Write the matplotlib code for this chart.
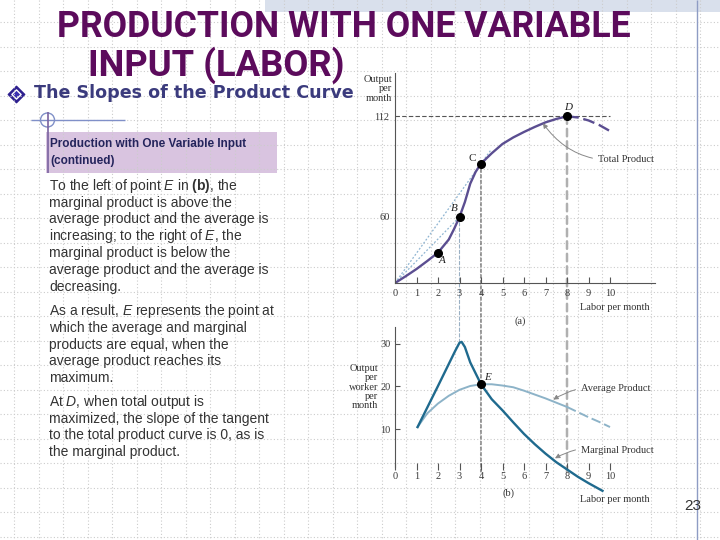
import numpy as np
import matplotlib.pyplot as plt
from matplotlib.patches import Rectangle, Circle, ConnectionPatch

W, H = 720, 540

# panel (a): total product
tp_labor = [0, 0.5, 1, 1.5, 2, 2.5, 2.75, 3, 3.25, 3.5, 3.75, 4, 4.5, 5, 5.5, 6, 6.5, 7, 7.5, 8]
tp_output = [0, 6.7, 13.8, 21.7, 30, 41, 50, 60, 65.6, 72.5, 76.9, 80, 87, 93.3, 97.7, 101.4, 104.8, 107.9, 110.2, 112]
tp_tail_labor = [8, 8.5, 9, 9.5, 10]
tp_tail_output = [112, 111.2, 109.2, 106.1, 102]
pt_names = ['A', 'B', 'C', 'D']
pt_labor = [2, 3, 4, 8]
pt_output = [30, 60, 80, 112]

# panel (b): marginal and average product
mp_labor = [1.05, 2, 2.8, 3.0, 3.1, 3.25, 3.5, 4, 4.5, 5, 5.5, 6, 6.5, 7, 7.5, 8, 8.5, 9, 9.65]
mp_output = [10.5, 20.1, 28.3, 30.2, 30.4, 29.2, 25.6, 20.5, 17.0, 14.4, 11.6, 8.9, 6.5, 4.3, 2.3, 0.6, -1.1, -2.6, -4.4]
ap_labor = [1.05, 1.5, 2, 2.5, 3, 3.5, 4, 4.5, 5, 5.5, 6, 6.5, 7, 7.5, 8]
ap_output = [10.5, 13.7, 16.0, 17.8, 19.2, 20.1, 20.5, 20.5, 20.2, 19.8, 19.0, 18.1, 17.2, 16.2, 15.2]
ap_tail_labor = [8, 8.5, 9, 9.5, 10]
ap_tail_output = [15.2, 14.0, 12.8, 11.7, 10.5]
e_labor, e_output = 4, 20.5

labor_ticks = list(range(11))

# the printed figure is not drawn to scale on the output axis
knots_out = [-100, 0, 30, 60, 80, 112, 400]
knots_h = [-101.3, 0, 30.4, 66, 119.4, 166.7, 592.4]

def fwd(y):
    return np.interp(y, knots_out, knots_h)

def inv(h):
    return np.interp(h, knots_h, knots_out)

para1 = ["To the left of point $\\mathit{E}$ in $\\mathbf{(b)}$, the",
         "marginal product is above the",
         "average product and the average is",
         "increasing; to the right of $\\mathit{E}$, the",
         "marginal product is below the",
         "average product and the average is",
         "decreasing."]
para2 = ["As a result, $\\mathit{E}$ represents the point at",
         "which the average and marginal",
         "products are equal, when the",
         "average product reaches its",
         "maximum."]
para3 = ["At $\\mathit{D}$, when total output is",
         "maximized, the slope of the tangent",
         "to the total product curve is 0, as is",
         "the marginal product."]

plt.rcParams['font.family'] = 'Liberation Serif'
plt.rcParams['mathtext.fontset'] = 'custom'
plt.rcParams['mathtext.rm'] = 'Liberation Sans'
plt.rcParams['mathtext.it'] = 'Liberation Sans:italic'
plt.rcParams['mathtext.bf'] = 'Liberation Sans:bold'

fig = plt.figure(figsize=(7.2, 5.4), dpi=100)


def rect(l, t, r, b):
    return [l / W, 1 - b / H, (r - l) / W, (b - t) / H]


def fpos(x, y):
    return x / W, 1 - y / H


# slide background
bg = fig.add_axes([0, 0, 1, 1], zorder=-2)
bg.set_xlim(0, W)
bg.set_ylim(H, 0)
bg.axis('off')
dot = (0, (1, 2))
bg.hlines(np.arange(22, H, 24.5), 0, W, colors='#cccccc', linestyles=dot, lw=0.8)
bg.vlines(np.arange(14, W, 24.5), 0, H, colors='#cccccc', linestyles=dot, lw=0.8)
bg.add_patch(Rectangle((265, 0), W - 265, 12, facecolor='#d9e0ec', edgecolor='none'))
bg.vlines(697, 0, H, colors='#8e9cc4', lw=1)
bg.add_patch(Rectangle((46, 173), 234, 289, facecolor='white', edgecolor='none'))
bg.add_patch(Rectangle((46, 132), 231, 41, facecolor='#d9c4e0', edgecolor='none'))
bg.hlines(120, 31, 125, colors='#8090c8', lw=1)
bg.vlines(47.5, 112, 173, colors='#7a62a0', lw=1.2)
bg.add_patch(Circle((47.5, 120), 7, facecolor='none', edgecolor='#8090c8', lw=1))
bg.scatter([16], [94], marker='D', s=70, color='#2d1f8f', edgecolors='#2d1f8f')
bg.scatter([16], [94], marker='D', s=22, color='#3b2fb0', edgecolors='white', linewidths=1)

# titles, fitted to the widths on the slide
fig.canvas.draw()
rend = fig.canvas.get_renderer()


def fit(t, width):
    bb = t.get_window_extent(rend)
    t.set_fontsize(t.get_fontsize() * width / bb.width)


title_font = ['Roboto', 'DejaVu Sans']
t1 = fig.text(*fpos(343.5, 27), 'PRODUCTION WITH ONE VARIABLE', ha='center', va='center',
              fontsize=26, weight='bold', color='#5c0b5c', family=title_font)
fit(t1, 573)
t2 = fig.text(*fpos(216.5, 65), 'INPUT (LABOR)', ha='center', va='center',
              fontsize=26, weight='bold', color='#5c0b5c', family=title_font)
fit(t2, 257)
t3 = fig.text(*fpos(34, 93), 'The Slopes of the Product Curve', ha='left', va='center',
              fontsize=14, weight='bold', color='#3b3b7d', family='DejaVu Sans')
fit(t3, 321)

fig.text(*fpos(50, 144), 'Production with One Variable Input', ha='left', va='center',
         fontsize=8.5, weight='bold', color='#24245c', family='Liberation Sans')
fig.text(*fpos(50, 161), '(continued)', ha='left', va='center',
         fontsize=8.5, weight='bold', color='#24245c', family='Liberation Sans')

for start, lines in [(186, para1), (311, para2), (402, para3)]:
    for i, line in enumerate(lines):
        fig.text(*fpos(49, start + i * 16.75), line, ha='left', va='center',
                 fontsize=10, color='#333333', family='Liberation Sans')

fig.text(*fpos(693, 506), '23', ha='center', va='center', fontsize=11,
         color='#333333', family='Liberation Sans')

# panel (a)
x0, ppx = 395, 21.5
gray = '#555555'
ax_a = fig.add_axes(rect(x0, 73, 655, 283))
ax_a.set_facecolor('none')
ax_a.set_xlim(0, (655 - x0) / ppx)
ax_a.set_yscale('function', functions=(fwd, inv))
ax_a.set_ylim(0, inv(210))
for s in ['top', 'right']:
    ax_a.spines[s].set_visible(False)
for s in ['left', 'bottom']:
    ax_a.spines[s].set_color(gray)
    ax_a.spines[s].set_linewidth(0.8)
ax_a.set_xticks(labor_ticks)
ax_a.tick_params(axis='x', direction='in', length=4, width=0.8, color=gray,
                 labelsize=7.5, labelcolor='#3a3a3a', pad=4)
ax_a.set_yticks([60, 112], ['60', '112'])
ax_a.minorticks_off()
ax_a.tick_params(axis='y', length=0, labelsize=7.5, labelcolor='#3a3a3a', pad=4)

ax_a.hlines(pt_output[3], 0, labor_ticks[-1], colors=gray, linestyles=(0, (4, 2)), lw=0.8)
ax_a.plot([0, pt_labor[1]], [0, pt_output[1]], color='#8fb5d2', ls=(0, (1.5, 1.5)), lw=0.9)
ax_a.plot([0, 4.45], [0, 89], color='#8fb5d2', ls=(0, (1.5, 1.5)), lw=0.9)
ax_a.plot(tp_labor, tp_output, color='#5b4e91', lw=1.7, solid_capstyle='round')
ax_a.plot(tp_tail_labor, tp_tail_output, color='#5b4e91', lw=1.7, ls=(0, (5, 2)))
ax_a.plot(pt_labor, pt_output, 'o', color='black', ms=5.5, zorder=5)
offsets = {'A': (3, -6), 'B': (-4, 6), 'C': (-6, 4), 'D': (1, 6)}
for name, lx, ly in zip(pt_names, pt_labor, pt_output):
    ax_a.annotate(name, (lx, ly), xytext=offsets[name], textcoords='offset points',
                  ha='center', va='center', fontsize=8,
                  style='normal' if name == 'C' else 'italic', color='#222222')
ax_a.annotate('Total Product', xy=(6.88, 107.3), xytext=(9.44, 82.9), ha='left', va='center',
              fontsize=7.5, color='#333333',
              arrowprops=dict(arrowstyle='-|>', color='#888888', lw=0.7, mutation_scale=7,
                              shrinkA=2, shrinkB=0, connectionstyle='arc3,rad=-0.3'))
fig.text(*fpos(392, 89), 'Output\nper\nmonth', ha='right', va='center', multialignment='right',
         fontsize=7.5, color='#333333', linespacing=1.05)
fig.text(*fpos(650, 307), 'Labor per month', ha='right', va='center', fontsize=7.5, color='#333333')
fig.text(*fpos(520, 321), '(a)', ha='center', va='center', fontsize=7.5, color='#333333')

# panel (b)
ppy, y0 = 4.28, 472
ax_b = fig.add_axes(rect(x0, 322, 655, 497))
ax_b.set_facecolor('none')
ax_b.set_xlim(0, (655 - x0) / ppx)
ax_b.set_ylim((y0 - 497) / ppy, (y0 - 322) / ppy)
for s in ['top', 'right']:
    ax_b.spines[s].set_visible(False)
ax_b.spines['left'].set_color(gray)
ax_b.spines['left'].set_linewidth(0.8)
ax_b.spines['left'].set_bounds(1.2, 33.9)
ax_b.spines['bottom'].set_position(('data', 0.47))
ax_b.spines['bottom'].set_color('none')
ax_b.set_xticks(labor_ticks)
ax_b.tick_params(axis='x', direction='in', length=5, width=0.8, color=gray,
                 labelsize=7.5, labelcolor='#3a3a3a', pad=1.5)
ax_b.set_yticks([10, 20, 30])
ax_b.tick_params(axis='y', direction='in', length=3.5, width=0.8, color=gray,
                 labelsize=7.5, labelcolor='#3a3a3a', pad=3)

ax_b.plot(ap_labor, ap_output, color='#8db3c8', lw=1.4)
ax_b.plot(ap_tail_labor, ap_tail_output, color='#8db3c8', lw=1.4, ls=(0, (5, 2)))
ax_b.plot(mp_labor, mp_output, color='#1f6a8e', lw=1.7)
ax_b.plot([e_labor], [e_output], 'o', color='black', ms=5.5, zorder=5)
ax_b.annotate('E', (e_labor, e_output), xytext=(5, 5), textcoords='offset points',
              ha='center', va='center', fontsize=8, style='italic', color='#222222')
ax_b.annotate('Average Product', xy=(7.36, 16.9), xytext=(8.65, 19.5), ha='left', va='center',
              fontsize=7.5, color='#333333',
              arrowprops=dict(arrowstyle='-|>', color='#888888', lw=0.7, mutation_scale=7,
                              shrinkA=2, shrinkB=0, connectionstyle='arc3,rad=0.2'))
ax_b.annotate('Marginal Product', xy=(7.44, 3.2), xytext=(8.65, 5.1), ha='left', va='center',
              fontsize=7.5, color='#333333',
              arrowprops=dict(arrowstyle='-|>', color='#888888', lw=0.7, mutation_scale=7,
                              shrinkA=2, shrinkB=0, connectionstyle='arc3,rad=0.2'))
fig.text(*fpos(378, 387), 'Output\nper\nworker\nper\nmonth', ha='right', va='center',
         multialignment='right', fontsize=7.5, color='#333333', linespacing=1.05)
fig.text(*fpos(650, 500), 'Labor per month', ha='right', va='center', fontsize=7.5, color='#333333')
fig.text(*fpos(508, 493), '(b)', ha='center', va='center', fontsize=7.5, color='#333333')

# dashed drop lines joining the two panels
drops = [((3, 60), (3, 30.2), '#9ab0c4', 0.8),
         ((4, 80), (4, 0), '#555555', 0.8),
         ((8, 112), (8, 0), '#b0b0b0', 1.8)]
for a_pt, b_pt, c, w in drops:
    con = ConnectionPatch(xyA=a_pt, coordsA=ax_a.transData, xyB=b_pt, coordsB=ax_b.transData,
                          color=c, lw=w, ls=(0, (3, 2)), zorder=-1)
    fig.add_artist(con)

fig.savefig('out.png', dpi=100)
